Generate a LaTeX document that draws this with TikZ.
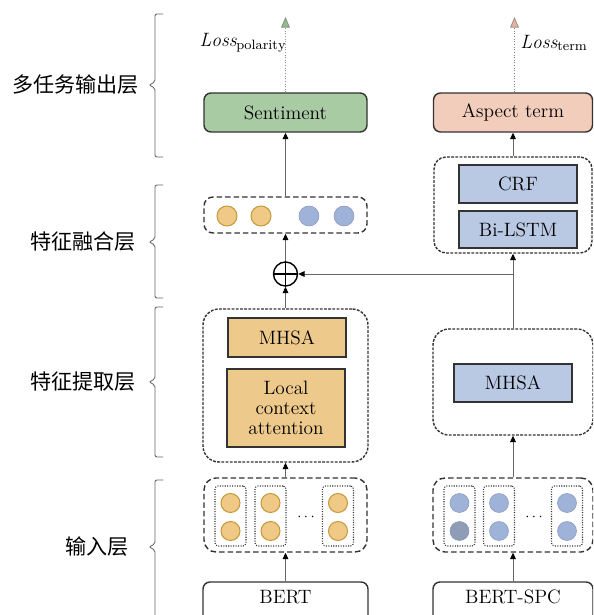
\documentclass[tikz,border=0pt]{standalone}
\usepackage{fontspec}
\newfontfamily\cjk{Noto Sans CJK SC}
\usetikzlibrary{arrows.meta}
\newlength\pxu
\setlength\pxu{0.02cm}

\definecolor{sentgreen}{HTML}{A9CBA3}
\definecolor{termpink}{HTML}{F3CDBB}
\definecolor{ochbox}{HTML}{EDC98B}
\definecolor{ochdot}{HTML}{F0C987}
\definecolor{ochedge}{HTML}{C49A3C}
\definecolor{bluebox}{HTML}{B9C8E3}
\definecolor{bluedot}{HTML}{9FB3D8}
\definecolor{bluedotdark}{HTML}{8F9CB6}
\definecolor{linegray}{HTML}{666666}
\definecolor{boxedge}{HTML}{333333}

\begin{document}
\begin{tikzpicture}[x=1\pxu, y=-1\pxu,
  font=\fontsize{11}{13}\selectfont,
  outbox/.style={draw=boxedge, line width=0.8pt, rounded corners=7\pxu, inner sep=0pt},
  flatbox/.style={draw=boxedge, line width=0.8pt, inner sep=0pt},
  longdash/.style={draw=boxedge, line width=0.8pt, rounded corners=9\pxu,
    dash pattern=on 5.5\pxu off 3\pxu, inner sep=0pt},
  finedash/.style={draw=boxedge, line width=0.8pt, rounded corners=16\pxu,
    dash pattern=on 2.8\pxu off 1.4\pxu, inner sep=0pt},
  dotbox/.style={draw=boxedge, line width=0.6pt, rounded corners=3\pxu,
    dash pattern=on 0.6pt off 0.8pt, inner sep=0pt, minimum width=31\pxu, minimum height=60\pxu},
  ochball/.style={circle, fill=ochdot, draw=ochedge, line width=0.6pt, minimum size=19\pxu, inner sep=0pt},
  blueball/.style={circle, fill=bluedot, draw=bluedot!85!black, line width=0.3pt, minimum size=19\pxu, inner sep=0pt},
  arr/.style={draw=linegray, line width=0.5pt, -{Triangle[length=3.6pt, width=3.2pt, fill=black, color=black]}},
  lossarr/.style={draw=linegray!70, line width=0.5pt, densely dotted},
  brace/.style={draw=linegray, line width=0.5pt, rounded corners=2\pxu},
  layer/.style={font=\cjk\fontsize{12}{14}\selectfont, anchor=east, inner sep=0pt},
  dots/.style={font=\fontsize{8}{9}\selectfont, inner sep=0pt}
]
\clip (0,0) rectangle (593,615);
\useasboundingbox (0,0) rectangle (593,615);

% ---- layer braces and labels ----
\draw[brace] (163,14) -- (155,14) -- (155,82) -- (149,85) -- (155,88) -- (155,157) -- (163,157);
\draw[brace] (163,185) -- (155,185) -- (155,239) -- (149,242) -- (155,245) -- (155,298) -- (163,298);
\draw[brace] (163,307) -- (155,307) -- (155,379) -- (149,382) -- (155,385) -- (155,457) -- (163,457);
\draw[brace] (163,480) -- (155,480) -- (155,544) -- (149,547) -- (155,550) -- (155,630);
\node[layer] (l1) at (139,85) {多任务输出层};
\node[layer] (l2) at (136,242) {特征融合层};
\node[layer] (l3) at (136,382) {特征提取层};
\node[layer] (l4) at (129,547) {输入层};

% ---- output layer ----
\node[outbox, fill=sentgreen, minimum width=163\pxu, minimum height=39\pxu] (sent) at (285.5,112.5) {Sentiment};
\node[outbox, fill=termpink, minimum width=159\pxu, minimum height=39\pxu] (term) at (513,112.5) {Aspect term};

\coordinate (lossP) at (285.5,17);
\coordinate (lossT) at (514.5,17);
\draw[lossarr, -{Triangle[length=6pt, width=5pt, color=sentgreen!75!black, fill=sentgreen!90!black]}] (sent.north) -- (lossP);
\draw[lossarr, draw=termpink!60!black, -{Triangle[length=6pt, width=5pt, color=termpink!70!black, fill=termpink!90!black]}] (term.north -| lossT) -- (lossT);
\node (lp) at (243,43) {$\mathit{Loss}_{\mathrm{polarity}}$};
\node (lt) at (554,43) {$\mathit{Loss}_{\mathrm{term}}$};

% ---- fusion layer ----
\node[longdash, minimum width=163\pxu, minimum height=36\pxu] (fuse) at (285.5,215) {};
\node[ochball, minimum size=20\pxu] (f1) at (227,216) {};
\node[ochball, minimum size=20\pxu] (f2) at (261,216) {};
\node[blueball, minimum size=20\pxu] (f3) at (309,216) {};
\node[blueball, minimum size=20\pxu] (f4) at (344,216) {};

\node[finedash, rounded corners=12\pxu, minimum width=158\pxu, minimum height=96\pxu] (rtop) at (513,205) {};
\node[flatbox, fill=bluebox, minimum width=118\pxu, minimum height=38\pxu] (crf) at (518,184) {CRF};
\node[flatbox, fill=bluebox, minimum width=118\pxu, minimum height=37\pxu] (lstm) at (518,229.5) {Bi-LSTM};

\node[circle, draw=black, line width=0.8pt, minimum size=24\pxu, inner sep=0pt] (plus) at (285.5,274) {};
\draw[black, line width=0.6pt] (plus.north) -- (plus.south) (plus.west) -- (plus.east);

% ---- extraction layer ----
\node[finedash, minimum width=165\pxu, minimum height=153\pxu] (lext) at (285.5,385.5) {};
\node[flatbox, fill=ochbox, minimum width=118\pxu, minimum height=39\pxu] (lmhsa) at (287,337.5) {MHSA};
\node[flatbox, fill=ochbox, minimum width=118\pxu, minimum height=78\pxu, align=center] (lca) at (286,408)
  {Local\\[-1.5pt]context\\[-1.5pt]attention};

\node[finedash, minimum width=160\pxu, minimum height=106\pxu] (rext) at (513,382) {};
\node[flatbox, fill=bluebox, minimum width=118\pxu, minimum height=38\pxu] (rmhsa) at (513,383) {MHSA};

% ---- input layer ----
\node[longdash, rounded corners=12\pxu, minimum width=163\pxu, minimum height=74\pxu] (lin) at (285.5,515) {};
\node[dotbox] (la) at (230.5,516) {};
\node[dotbox] (lb) at (270.5,516) {};
\node[dotbox] (lc) at (338,516) {};
\node[ochball] (la1) at (230.5,503) {};
\node[ochball] (la2) at (230.5,531) {};
\node[ochball] (lb1) at (270.5,503) {};
\node[ochball] (lb2) at (270.5,531) {};
\node[ochball] (lc1) at (338,503) {};
\node[ochball] (lc2) at (338,531) {};
\node[dots] (ldots) at (306,517) {$\cdots$};

\node[longdash, rounded corners=12\pxu, minimum width=160\pxu, minimum height=74\pxu] (rin) at (513,515) {};
\node[dotbox] (ra) at (459.5,516) {};
\node[dotbox] (rb) at (499,516) {};
\node[dotbox] (rc) at (567,516) {};
\node[blueball] (ra1) at (459.5,503) {};
\node[blueball, fill=bluedotdark] (ra2) at (459.5,531) {};
\node[blueball] (rb1) at (499,503) {};
\node[blueball] (rb2) at (499,531) {};
\node[blueball] (rc1) at (567,503) {};
\node[blueball] (rc2) at (567,531) {};
\node[dots] (rdots) at (534,517) {$\cdots$};

\node[outbox, minimum width=165\pxu, minimum height=44\pxu, text depth=14\pxu] (bert) at (285.5,604) {BERT};
\node[outbox, minimum width=160\pxu, minimum height=44\pxu, text depth=14\pxu] (bspc) at (513,604) {BERT-SPC};

% ---- connectors ----
\draw[arr] (bert.north) -- (lin.south);
\draw[arr] (lin.north) -- (lext.south);
\draw[arr] (lext.north) -- (plus.south);
\draw[arr] (plus.north) -- (fuse.south);
\draw[arr] (fuse.north) -- (sent.south);

\draw[arr] (bspc.north) -- (rin.south);
\draw[arr] (rin.north) -- (rext.south);
\draw[arr] (rext.north) -- (rtop.south);
\draw[arr] (rtop.north) -- (term.south);
\coordinate (branch) at (rtop.south |- plus.east);
\draw[arr] (branch) -- (plus.east);
\end{tikzpicture}
\end{document}
